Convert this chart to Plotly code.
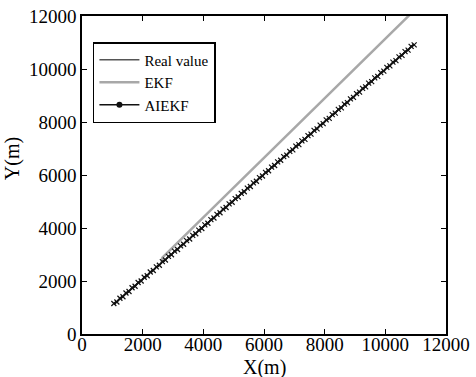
import plotly.graph_objects as go

# Real trajectory
real_x = [1050, 3000, 5000, 7000, 9000, 10950]
real_y = [1130, 3060, 5040, 7020, 9000, 10930]

# EKF estimate
ekf_x = [2620, 2650, 4000, 6000, 8000, 10000, 10950]
ekf_y = [2700, 2880, 4397, 6645, 8893, 11141, 12210]

# AIEKF estimate
aiekf_x = [1050, 1150, 1250, 1350, 1450, 1550, 1650, 1750, 1850, 1950,
           2050, 2150, 2250, 2350, 2450, 2550, 2650, 2750, 2850, 2950,
           3050, 3150, 3250, 3350, 3450, 3550, 3650, 3750, 3850, 3950,
           4050, 4150, 4250, 4350, 4450, 4550, 4650, 4750, 4850, 4950,
           5050, 5150, 5250, 5350, 5450, 5550, 5650, 5750, 5850, 5950,
           6050, 6150, 6250, 6350, 6450, 6550, 6650, 6750, 6850, 6950,
           7050, 7150, 7250, 7350, 7450, 7550, 7650, 7750, 7850, 7950,
           8050, 8150, 8250, 8350, 8450, 8550, 8650, 8750, 8850, 8950,
           9050, 9150, 9250, 9350, 9450, 9550, 9650, 9750, 9850, 9950,
           10050, 10150, 10250, 10350, 10450, 10550, 10650, 10750, 10850, 10950]
aiekf_y = [1150, 1209, 1348, 1407, 1546, 1605, 1744, 1803, 1942, 2001,
           2140, 2199, 2338, 2397, 2536, 2595, 2734, 2793, 2932, 2991,
           3130, 3189, 3328, 3387, 3526, 3585, 3724, 3783, 3922, 3981,
           4120, 4179, 4318, 4377, 4516, 4575, 4714, 4773, 4912, 4971,
           5110, 5169, 5308, 5367, 5506, 5565, 5704, 5763, 5902, 5961,
           6100, 6159, 6298, 6357, 6496, 6555, 6694, 6753, 6892, 6951,
           7090, 7149, 7288, 7347, 7486, 7545, 7684, 7743, 7882, 7941,
           8080, 8139, 8278, 8337, 8476, 8535, 8674, 8733, 8872, 8931,
           9070, 9129, 9268, 9327, 9466, 9525, 9664, 9723, 9862, 9921,
           10060, 10119, 10258, 10317, 10456, 10515, 10654, 10713, 10852, 10911]

tick_vals = [0, 2000, 4000, 6000, 8000, 10000, 12000]
tick_text = ["0", "2000", "4000", "6000", "8000", "10000", "12000"]

FONT = "Liberation Serif"

fig = go.Figure()
fig.add_trace(go.Scatter(x=real_x, y=real_y, mode="lines", name="Real value",
                         line=dict(color="#555555", width=1.5)))
fig.add_trace(go.Scatter(x=ekf_x, y=ekf_y, mode="lines", name="EKF",
                         line=dict(color="#a8a8a8", width=2.5)))
fig.add_trace(go.Scatter(x=aiekf_x, y=aiekf_y, mode="lines+markers", name="AIEKF",
                         showlegend=False,
                         line=dict(color="#111111", width=1.5),
                         marker=dict(symbol="x-thin-open", size=5, color="#111111",
                                     line=dict(width=1.2, color="#111111"))))
# legend entry for AIEKF (line with dot marker)
fig.add_trace(go.Scatter(x=[None], y=[None], mode="lines+markers", name="AIEKF",
                         line=dict(color="#111111", width=1.5),
                         marker=dict(symbol="circle", size=6, color="#111111")))

axis_common = dict(
    range=[0, 12000], tickvals=tick_vals, ticktext=tick_text,
    showgrid=False, zeroline=False, showline=True, linecolor="black", linewidth=1.5,
    mirror="allticks", ticks="inside", ticklen=5, tickcolor="black",
    tickfont=dict(family=FONT, size=19, color="black"), automargin=False,
)

fig.update_layout(
    width=476, height=377,
    margin=dict(l=82, r=30, t=16, b=43),
    paper_bgcolor="white", plot_bgcolor="white",
    font=dict(family=FONT, color="black"),
    xaxis=dict(**axis_common, ticklabelstandoff=-8),
    yaxis=dict(**axis_common, ticklabelstandoff=0),
    legend=dict(x=0.03, y=0.918, xanchor="left", yanchor="top",
                bgcolor="white", bordercolor="black", borderwidth=1.5,
                font=dict(family=FONT, size=15, color="black"),
                tracegroupgap=0, itemwidth=40, entrywidth=85),
    showlegend=True,
    annotations=[
        dict(text="X(m)", xref="paper", yref="paper", x=0.5, y=-0.104,
             xanchor="center", yanchor="middle", showarrow=False,
             font=dict(family=FONT, size=20, color="black")),
        dict(text="Y(m)", xref="paper", yref="paper", x=-0.192, y=0.55,
             xanchor="center", yanchor="middle", showarrow=False, textangle=-90,
             font=dict(family=FONT, size=20, color="black")),
    ],
)

fig.write_html("out.html")
